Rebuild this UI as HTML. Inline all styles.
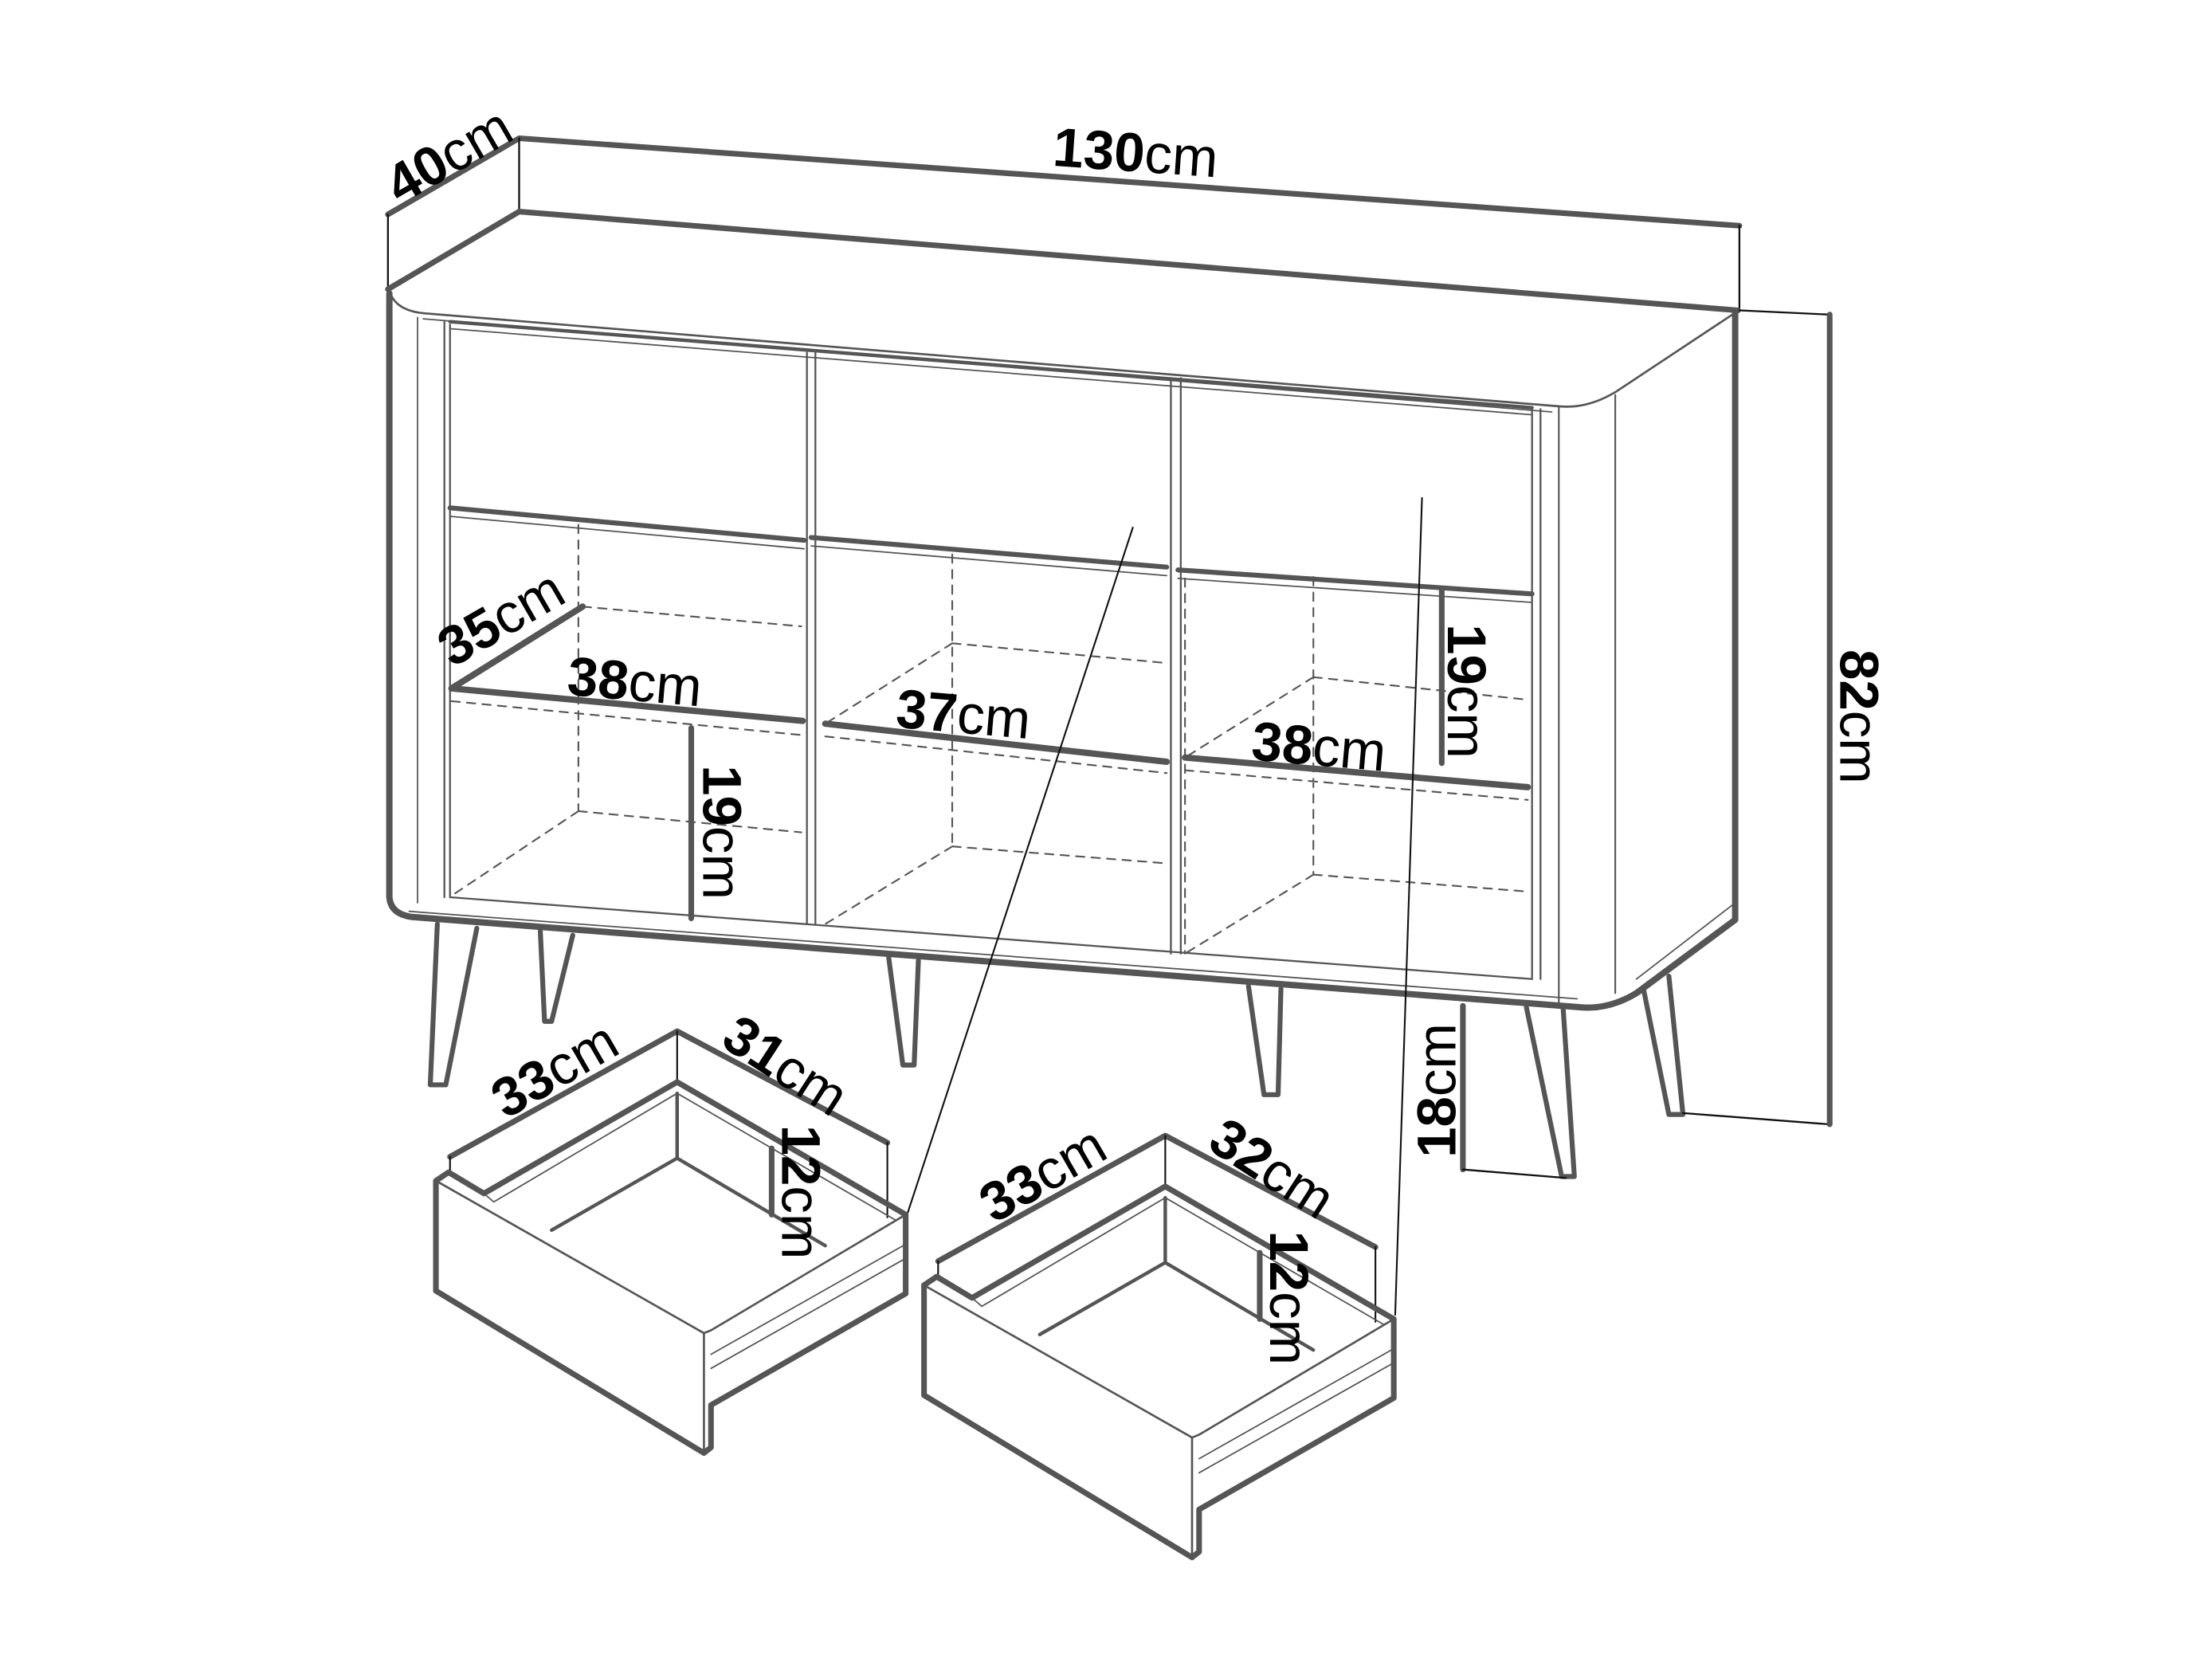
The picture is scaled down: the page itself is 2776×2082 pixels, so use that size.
<!DOCTYPE html>
<html><head><meta charset="utf-8"><style>
html,body{margin:0;padding:0;background:#fff}
svg{display:block}
text{font-family:"Liberation Sans",sans-serif;font-size:39px;fill:#000}
.b{font-weight:bold}
</style></head><body>
<svg width="2776" height="2082" viewBox="0 0 1568 1176" xmlns="http://www.w3.org/2000/svg">
<g fill="none" stroke="#555" stroke-linejoin="round" stroke-linecap="round">
<path d="M275,152 L368,98 L1233,160" stroke-width="4"/>
<path d="M275,152 V205 M368,98 V150 M1233,160 V220" stroke="#111" stroke-width="1.3"/>
<path d="M275,205 L368,150 L1232,220" stroke-width="4"/>
<path d="M276,206 Q280,220 300,222 L1105,288 Q1125,290 1145,278 L1228,223" stroke-width="1.5"/>
<path d="M300,226 L1100,292" stroke-width="1"/>
<path d="M276,208 V636 Q277,648 292,650 L1120,714 Q1140,716 1160,704 L1230,652 V222" stroke-width="4.5"/>
<path d="M290,646 L1118,708 M1230,640 L1160,694" stroke-width="1"/>
<path d="M296,225 V640" stroke-width="1"/>
<path d="M315,228 V636 M319,230 V636" stroke-width="1.3"/>
<path d="M319,228 L1086,289" stroke-width="2.5"/>
<path d="M319,233 L1086,294" stroke-width="1"/>
<path d="M572,250 V655 M578,250 V655" stroke-width="1.3"/>
<path d="M830,268 V676 M837,268 V676" stroke-width="1.3"/>
<path d="M1086,289 V694 M1092,290 V694" stroke-width="1.3"/>
<path d="M1105,288 V712 M1145,280 V704" stroke-width="1.2"/>
<path d="M319,636 L1086,694" stroke-width="1.3"/>
<path d="M319,360 L570,383 M575,381 L827,402 M835,404 L1086,421" stroke-width="3.5"/>
<path d="M319,366 L570,389 M575,387 L827,408 M835,410 L1086,427" stroke-width="1"/>
<path d="M413,430 L320,488 L569,511" stroke-width="4.5"/>
<path d="M585,513 L827,540" stroke-width="4.5"/>
<path d="M840,537 L1083,558" stroke-width="4.5"/>
<g stroke-width="1.2" stroke-dasharray="6,5">
<path d="M410,372 V575 M413,430 L568,444 M320,497 L568,521 M410,575 L568,590 M410,575 L320,635"/>
<path d="M675,393 V600 M675,456 L827,470 M675,456 L585,513 M585,522 L827,548 M675,600 L827,612 M675,600 L585,655"/>
<path d="M931,409 V620 M931,480 L1083,496 M931,480 L840,537 M840,410 V676 M840,546 L1083,567 M931,620 L1083,632 M931,620 L840,676"/>
</g>
<path d="M490,516 V651 M1022,419 V541" stroke-width="4"/>
<g stroke-width="3.5">
<path d="M310,655 L305,769 L316,769 L338,658"/>
<path d="M383,660 L386,724 L391,724 L406,663"/>
<path d="M630,679 L640,755 L648,755 L651,681"/>
<path d="M885,699 L896,776 L906,776 L908,701"/>
<path d="M1082,714 L1107,834 L1116,834 L1108,714"/>
<path d="M1165,701 L1183,790 L1193,790 L1183,692"/>
</g>
<path d="M1233,220 L1297,223 M1193,789 L1297,797" stroke="#111" stroke-width="1.3"/>
<path d="M1297,223 V797" stroke-width="4"/>
<path d="M1037,713 V829" stroke-width="4"/>
<path d="M1037,829 L1110,835" stroke="#111" stroke-width="1.3"/>
<path d="M803,374 L643,861 M1008,353 L989,932" stroke="#111" stroke-width="1.2"/>
<g id="dr">
<path d="M319,820 L480,731 L629,810" stroke-width="4"/>
<path d="M319,820 V831 M480,731 V767 M629,810 V863" stroke="#111" stroke-width="1.2"/>
<path d="M309,837 V915 L499,1030 L504,1026 V996 L642,917 V861 L480,767 L343,846 L318,831 Z" stroke-width="4"/>
<path d="M309,837 L499,945 V1030 M499,945 L504,943 L642,861" stroke-width="1.5"/>
<path d="M504,960 L642,882 M504,970 L642,892" stroke-width="1"/>
<path d="M343,846 L350,852 L480,775 L635,865" stroke-width="1"/>
<path d="M391,872 L480,821 L585,883 M480,775 V821" stroke-width="2.5"/>
<path d="M547,814 V861" stroke-width="4"/>
</g>
<use href="#dr" transform="translate(346,74)"/>
</g>
<text transform="translate(318,110) rotate(-30)" text-anchor="middle" dominant-baseline="central"><tspan class="b">40</tspan>cm</text>
<text transform="translate(805,108) rotate(4)" text-anchor="middle" dominant-baseline="central"><tspan class="b">130</tspan>cm</text>
<text transform="translate(1318,508) rotate(90)" text-anchor="middle" dominant-baseline="central"><tspan class="b">82</tspan>cm</text>
<text transform="translate(355,438) rotate(-30)" text-anchor="middle" dominant-baseline="central"><tspan class="b">35</tspan>cm</text>
<text transform="translate(450,483) rotate(5)" text-anchor="middle" dominant-baseline="central"><tspan class="b">38</tspan>cm</text>
<text transform="translate(683,506) rotate(5)" text-anchor="middle" dominant-baseline="central"><tspan class="b">37</tspan>cm</text>
<text transform="translate(935,529) rotate(5)" text-anchor="middle" dominant-baseline="central"><tspan class="b">38</tspan>cm</text>
<text transform="translate(512,590) rotate(90)" text-anchor="middle" dominant-baseline="central"><tspan class="b">19</tspan>cm</text>
<text transform="translate(1040,490) rotate(90)" text-anchor="middle" dominant-baseline="central"><tspan class="b">19</tspan>cm</text>
<text transform="translate(1018,773) rotate(-90)" text-anchor="middle" dominant-baseline="central"><tspan class="b">18</tspan>cm</text>
<text transform="translate(393,758) rotate(-30)" text-anchor="middle" dominant-baseline="central"><tspan class="b">33</tspan>cm</text>
<text transform="translate(557,755) rotate(33)" text-anchor="middle" dominant-baseline="central"><tspan class="b">31</tspan>cm</text>
<text transform="translate(568,845) rotate(90)" text-anchor="middle" dominant-baseline="central"><tspan class="b">12</tspan>cm</text>
<text transform="translate(739,832) rotate(-30)" text-anchor="middle" dominant-baseline="central"><tspan class="b">33</tspan>cm</text>
<text transform="translate(902,828) rotate(33)" text-anchor="middle" dominant-baseline="central"><tspan class="b">32</tspan>cm</text>
<text transform="translate(914,920) rotate(90)" text-anchor="middle" dominant-baseline="central"><tspan class="b">12</tspan>cm</text>
</svg>
</body></html>
